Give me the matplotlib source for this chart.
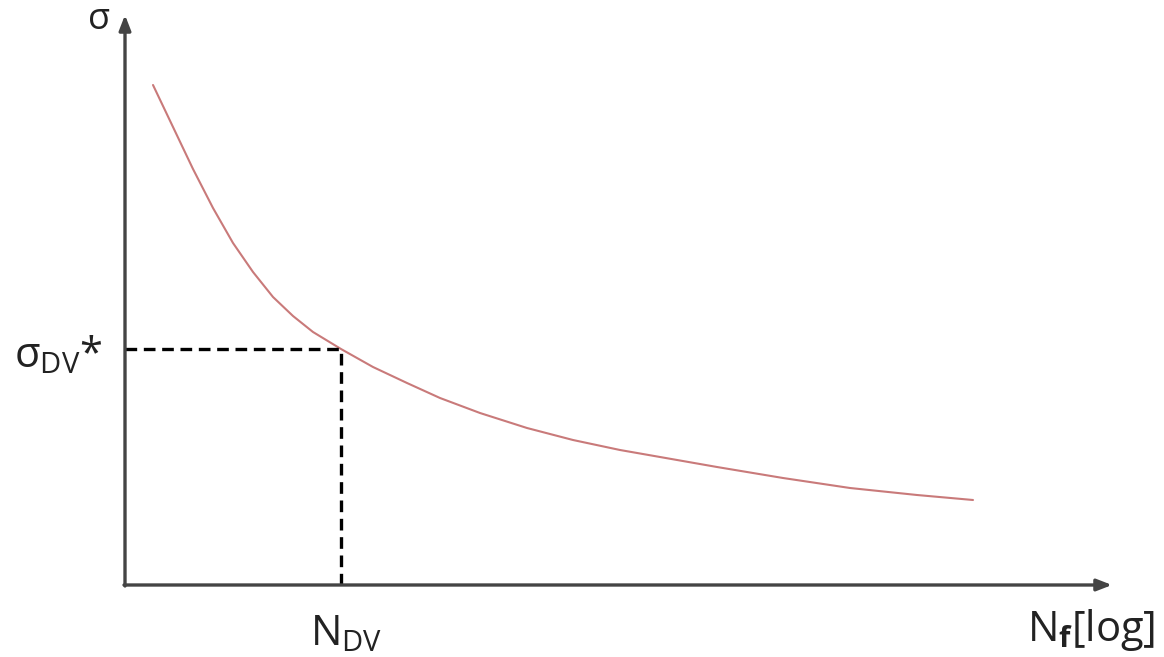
import matplotlib
matplotlib.use('Agg')
import matplotlib.pyplot as plt

plt.rcParams['font.family'] = ['Open Sans', 'DejaVu Sans']
plt.rcParams['mathtext.fontset'] = 'custom'
plt.rcParams['mathtext.rm'] = 'Open Sans'
plt.rcParams['mathtext.bf'] = 'Open Sans:bold'

# S-N 곡선 (임의 단위, 그림에서 읽은 값)
log_n = [28, 48, 68, 88, 108, 128, 148, 168, 188, 216, 248, 282, 315,
         355, 402, 448, 495, 535, 592, 658, 725, 792, 848]
sigma = [500, 458, 416, 377, 342, 313, 288, 269, 253, 236, 218, 202, 187,
         172, 157, 145, 135, 128, 118, 107, 97, 90, 85]

# 피로한도 점
n_dv = 216
sigma_dv = 236

fig = plt.figure(figsize=(11.64, 6.57), dpi=100)
ax = fig.add_axes([125 / 1164, 72 / 657, 1039 / 1164, 585 / 657])
ax.set_xlim(0, 1039)
ax.set_ylim(0, 585)
ax.axis('off')

# 축 화살표
arrow = dict(arrowstyle='-|>,head_length=0.9,head_width=0.35', color='#444444',
             lw=2.4, shrinkA=0, shrinkB=0)
ax.annotate('', xy=(987, 0), xytext=(-1, 0), arrowprops=arrow)
ax.annotate('', xy=(0, 570), xytext=(0, -1), arrowprops=arrow)

# 곡선
ax.plot(log_n, sigma, color='#c97a7a', lw=1.5, solid_capstyle='round',
        solid_joinstyle='round')

# 점선
ax.plot([0, n_dv], [sigma_dv, sigma_dv], color='black', lw=2.4, ls=(0, (3.5, 2)))
ax.plot([n_dv, n_dv], [0, sigma_dv], color='black', lw=2.4, ls=(0, (3.5, 2)))

# 라벨
ax.text(-26, 565, 'σ', fontsize=26, ha='center', va='center', color='#222222')
ax.text(-22, 218, 'σ$_{\\mathrm{DV}}$*', fontsize=30, ha='right', va='baseline',
        color='#222222')
ax.text(221, -60, 'N$_{\\mathrm{DV}}$', fontsize=30, ha='center', va='baseline',
        color='#222222')
ax.text(1030, -56, 'N$_{\\mathbf{f}}$[log]', fontsize=30, ha='right', va='baseline',
        color='#222222')

fig.savefig('out.png', dpi=100)
